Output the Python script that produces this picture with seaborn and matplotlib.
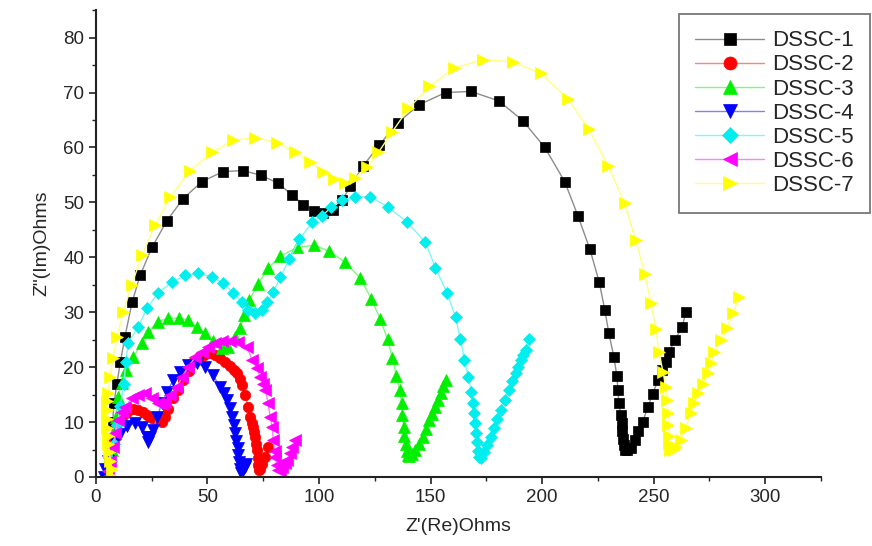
import numpy as np
import pandas as pd
import matplotlib
matplotlib.use("Agg")
import matplotlib.pyplot as plt
import seaborn as sns
from matplotlib.colors import to_rgb
from matplotlib.ticker import MultipleLocator

# Nyquist data, (Z', Z'') pairs in ohms
dssc1 = [(5.5, 0.0), (6.0, 2.0), (6.5, 4.5), (7.0, 7.0), (7.5, 10.0), (8.1, 13.5), (9.4, 17.0),
         (11.0, 21.0), (13.0, 25.5), (16.2, 31.8), (19.8, 36.7), (25.1, 41.8), (31.9, 46.7),
         (39.1, 50.7), (47.6, 53.8), (57.0, 55.6), (66.0, 55.8), (74.1, 54.9), (81.7, 53.5),
         (88.0, 51.3), (93.0, 49.6), (97.9, 48.4), (101.9, 48.0), (106.4, 48.7), (110.5, 50.5),
         (114.0, 52.9), (119.9, 56.7), (127.1, 60.5), (135.2, 64.5), (145.0, 67.8), (156.7, 70.0),
         (168.0, 70.2), (180.5, 68.5), (191.3, 64.9), (201.2, 60.0), (210.1, 53.8), (216.0, 47.6),
         (221.4, 41.5), (225.6, 35.5), (228.1, 30.4), (229.9, 26.2), (232.2, 21.8), (233.5, 18.4),
         (234.0, 15.8), (234.4, 13.5), (235.3, 11.3), (235.7, 9.8), (236.0, 8.3), (236.3, 7.0),
         (236.6, 5.8), (237.2, 5.0), (238.2, 5.0), (239.8, 5.3), (241.5, 6.8), (243.2, 8.3),
         (245.0, 10.0), (247.4, 12.7), (249.6, 15.2), (251.9, 17.6), (253.8, 19.5), (255.5, 20.9),
         (256.8, 22.7), (259.5, 24.9), (262.7, 27.3), (264.5, 30.0)]

dssc2 = [(4.5, 0.0), (5.2, 2.0), (6.2, 4.5), (7.5, 7.0), (9.2, 9.3), (11.5, 11.0), (13.9, 11.9),
         (16.5, 12.3), (18.9, 12.2), (21.0, 11.8), (22.9, 11.3), (25.2, 10.8), (27.4, 10.4),
         (29.6, 10.0), (31.0, 10.9), (32.3, 12.4), (34.6, 14.4), (36.8, 15.8), (39.1, 17.6),
         (41.5, 19.3), (43.6, 20.9), (46.0, 21.8), (48.5, 22.3), (51.2, 22.5), (53.5, 22.2),
         (55.7, 21.7), (58.0, 21.0), (60.2, 20.2), (62.0, 19.5), (63.3, 18.9), (64.5, 17.8),
         (65.6, 16.7), (66.9, 14.9), (68.3, 12.7), (69.2, 10.9), (70.0, 9.8), (70.5, 9.1),
         (71.0, 8.2), (71.4, 7.3), (71.8, 6.0), (72.3, 4.9), (72.5, 3.5), (72.7, 2.2), (73.0, 1.3),
         (73.6, 1.5), (74.5, 2.4), (75.9, 3.6), (77.2, 5.5)]

dssc3 = [(6.0, 0.0), (6.5, 2.5), (7.2, 5.0), (8.0, 8.0), (8.8, 11.0), (9.9, 14.5), (11.7, 17.1),
         (13.5, 19.5), (16.6, 21.8), (20.7, 24.4), (23.4, 26.4), (27.8, 28.3), (32.3, 28.9),
         (37.3, 28.9), (41.3, 28.5), (45.4, 27.3), (48.9, 26.2), (52.3, 24.8), (56.6, 23.5),
         (59.3, 23.6), (62.4, 25.5), (64.7, 27.1), (66.5, 29.5), (68.7, 32.2), (72.7, 35.1),
         (77.2, 38.0), (82.6, 40.2), (90.3, 41.8), (97.9, 42.2), (104.6, 41.1), (111.8, 39.1),
         (118.5, 36.2), (123.5, 32.4), (127.5, 28.7), (130.7, 25.1), (132.9, 21.6), (134.7, 18.4),
         (136.1, 15.8), (137.0, 13.5), (137.4, 11.3), (137.9, 9.1), (138.3, 7.5), (138.8, 6.0),
         (139.3, 4.8), (139.7, 4.0), (140.5, 3.8), (141.8, 4.2), (143.2, 4.9), (144.8, 6.0),
         (146.4, 7.3), (147.8, 8.8), (149.1, 10.4), (150.7, 11.5), (152.2, 12.7), (153.4, 14.0),
         (154.5, 15.3), (155.6, 16.5), (156.7, 17.6)]

dssc4 = [(3.5, 0.0), (4.2, 1.5), (5.2, 3.0), (6.7, 4.7), (8.5, 6.3), (10.8, 7.8), (13.9, 9.2),
         (17.5, 9.8), (20.7, 9.1), (22.9, 7.3), (23.4, 6.4), (24.2, 7.3), (25.6, 8.5), (27.4, 10.9),
         (29.6, 13.5), (31.9, 15.5), (34.6, 17.6), (37.7, 19.1), (41.3, 20.4), (45.4, 20.7),
         (48.9, 20.0), (52.5, 18.5), (55.7, 16.4), (57.3, 15.3), (58.8, 14.0), (60.0, 12.5),
         (61.1, 10.9), (61.8, 9.5), (62.4, 8.0), (63.0, 6.5), (63.5, 5.2), (63.9, 4.0),
         (64.3, 2.8), (64.7, 1.5), (65.0, 0.7), (65.8, 1.3), (66.6, 1.8), (67.4, 2.3)]

dssc5 = [(6.0, 0.0), (6.8, 3.0), (8.0, 6.0), (9.5, 9.5), (11.0, 13.0), (12.5, 17.0), (13.5, 21.0),
         (14.4, 24.4), (18.9, 27.3), (22.9, 30.7), (27.8, 33.5), (34.1, 35.5), (40.0, 36.7),
         (45.8, 37.1), (52.1, 36.4), (57.0, 35.3), (61.5, 33.5), (65.6, 31.8), (68.3, 30.4),
         (71.4, 29.8), (74.5, 30.4), (76.8, 31.8), (79.5, 33.6), (82.6, 36.4), (86.7, 39.6),
         (91.2, 43.3), (97.0, 46.4), (101.5, 47.6), (105.5, 49.1), (110.5, 50.4), (116.0, 51.0),
         (123.0, 51.0), (131.1, 49.1), (139.6, 46.4), (147.7, 42.7), (152.2, 38.1), (157.4, 33.5),
         (161.2, 29.1), (163.4, 25.1), (165.2, 21.3), (167.0, 18.2), (168.3, 15.5), (169.0, 13.5),
         (169.5, 11.6), (170.0, 9.8), (170.4, 8.0), (170.8, 6.3), (171.2, 4.8), (171.8, 3.6),
         (172.8, 3.5), (174.0, 4.5), (175.5, 5.8), (176.9, 7.3), (178.5, 9.0), (180.0, 10.6),
         (181.4, 12.2), (183.2, 14.0), (185.0, 15.8), (186.6, 17.4), (188.1, 18.9), (189.3, 20.1),
         (190.4, 21.3), (191.5, 22.2), (192.6, 23.1), (194.0, 25.1)]

dssc6 = [(5.0, 0.0), (5.4, 1.0), (6.2, 3.0), (7.6, 5.5), (8.7, 8.0), (9.9, 10.4), (11.5, 11.8),
         (13.0, 12.7), (16.2, 14.4), (18.9, 14.9), (22.0, 15.3), (25.1, 14.4), (27.8, 13.5),
         (29.5, 13.3), (31.0, 13.6), (33.2, 14.9), (36.4, 16.4), (38.6, 18.2), (41.3, 20.0),
         (44.5, 21.8), (47.6, 22.8), (50.3, 23.6), (53.4, 24.4), (56.6, 24.8), (60.2, 24.8),
         (63.8, 24.5), (67.8, 23.6), (70.0, 21.3), (72.0, 19.8), (73.6, 18.2), (75.0, 16.9),
         (75.9, 15.8), (77.2, 13.5), (78.1, 10.9), (79.0, 9.1), (79.5, 6.7), (80.1, 4.8),
         (80.4, 3.6), (81.0, 2.2), (81.7, 1.3), (82.5, 1.2), (83.5, 1.8), (84.7, 2.5), (85.8, 3.1),
         (87.0, 4.3), (88.0, 5.5), (89.3, 6.7)]

dssc7 = [(7.5, 0.0), (7.0, 1.5), (6.5, 3.0), (6.0, 4.5), (5.6, 6.0), (5.3, 7.5), (5.1, 9.0),
         (5.0, 10.5), (4.9, 12.2), (5.1, 13.8), (5.4, 15.3), (6.3, 18.2), (7.6, 21.6), (9.4, 25.5),
         (12.3, 30.0), (16.0, 35.0), (20.7, 40.4), (26.5, 45.8), (33.2, 50.9), (42.2, 55.8),
         (52.1, 59.1), (61.5, 61.3), (71.4, 61.8), (81.3, 60.9), (89.4, 59.1), (96.1, 57.3),
         (101.9, 55.5), (106.5, 54.2), (111.8, 53.6), (116.3, 54.5), (121.7, 56.4), (126.6, 59.1),
         (132.9, 62.9), (140.1, 67.1), (149.5, 71.1), (160.3, 74.4), (173.3, 76.0), (186.8, 75.6),
         (199.4, 73.5), (211.5, 68.9), (220.9, 63.3), (229.7, 56.6), (237.0, 49.8), (242.0, 43.1),
         (246.1, 36.9), (248.8, 31.6), (251.0, 26.9), (252.4, 22.7), (254.2, 19.1), (255.5, 16.4),
         (256.0, 14.0), (256.4, 11.6), (256.6, 9.5), (256.8, 7.5), (257.0, 6.0), (257.5, 5.0),
         (258.5, 4.9), (260.0, 5.5), (262.2, 6.7), (264.5, 9.0), (266.7, 11.6), (268.3, 13.4),
         (269.9, 15.3), (272.0, 17.0), (274.4, 18.9), (275.8, 20.8), (277.0, 22.7), (280.2, 24.9),
         (282.9, 27.1), (285.6, 29.8), (288.3, 32.7)]

series_names = ["DSSC-1", "DSSC-2", "DSSC-3", "DSSC-4", "DSSC-5", "DSSC-6", "DSSC-7"]
series_data = [dssc1, dssc2, dssc3, dssc4, dssc5, dssc6, dssc7]

colors = ["#000000", "#ff0000", "#00f000", "#0000ff", "#00eeee", "#ff00ff", "#ffff00"]
markers = ["s", "o", "^", "v", "D", "<", ">"]
msizes = [6.5, 7.5, 8.5, 8.5, 6.5, 8.5, 8.5]

sns.set_theme(style="ticks")
plt.rcParams["font.family"] = ["Liberation Sans", "DejaVu Sans"]

fig = plt.figure(figsize=(8.72, 5.46), dpi=100)
ax = fig.add_axes([0.110, 0.1264, 0.8315, 0.855])

for name, pts, c, m, ms in zip(series_names, series_data, colors, markers, msizes):
    df = pd.DataFrame(pts, columns=["re", "im"])
    sns.lineplot(data=df, x="re", y="im", sort=False, estimator=None, ax=ax,
                 color=c, marker=m, markersize=ms, linewidth=1.0, label=name)
    ln = ax.lines[-1]
    # lighter connecting line, solid markers
    light = tuple(0.5 * v + 0.5 for v in to_rgb(c))
    if name == "DSSC-1":
        light = (0.55, 0.55, 0.55)
    ln.set_color(light)
    ln.set_markerfacecolor(c)
    ln.set_markeredgecolor(c)
    ln.set_markeredgewidth(0.5)

ax.set_xlim(0, 325)
ax.set_ylim(0, 85)
ax.xaxis.set_major_locator(MultipleLocator(50))
ax.xaxis.set_minor_locator(MultipleLocator(25))
ax.yaxis.set_major_locator(MultipleLocator(10))
ax.yaxis.set_minor_locator(MultipleLocator(5))
ax.tick_params(which="major", direction="out", length=5, width=1.2, labelsize=13.5, color="#222222")
ax.tick_params(which="minor", direction="out", length=3, width=1.0, color="#222222")
for s in ["top", "right"]:
    ax.spines[s].set_visible(False)
for s in ["left", "bottom"]:
    ax.spines[s].set_linewidth(1.5)
    ax.spines[s].set_color("#222222")

ax.set_xlabel("Z'(Re)Ohms", fontsize=14, labelpad=9)
ax.set_ylabel('Z"(Im)Ohms', fontsize=14, labelpad=9)

leg = ax.legend(loc="upper right", bbox_to_anchor=(0.998, 0.975), bbox_transform=fig.transFigure,
                borderaxespad=0.0, fontsize=16, frameon=True, fancybox=False, handlelength=3.1,
                labelspacing=0.14, borderpad=0.75, handletextpad=0.35, markerscale=1.25)
leg.get_frame().set_edgecolor("#555555")
leg.get_frame().set_linewidth(1.3)

fig.savefig("out.png", dpi=100)
